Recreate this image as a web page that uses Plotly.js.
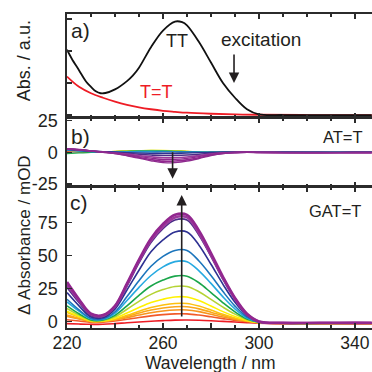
<!DOCTYPE html>
<html>
<head>
<meta charset="utf-8">
<script src="https://cdn.plot.ly/plotly-3.0.1.min.js"></script>
<style>html,body{margin:0;padding:0;background:#fff;}#chart{width:372px;height:372px;}</style>
</head>
<body>
<div id="chart"></div>
<script>
// ---------- Panel a: ground-state absorbance (a.u.) ----------
const wlTT = [220,222,225,228,230,232,234,236,240,245,247.5,250,255,260,265,268,270,275,280,285,290,295,300,310,320,347];
const absTT = [0.51,0.44,0.35,0.26,0.22,0.185,0.17,0.172,0.20,0.265,0.31,0.37,0.53,0.66,0.73,0.725,0.70,0.57,0.41,0.25,0.135,0.045,0.005,0,0,0];
const wlTeT = [220,225,230,235,240,245,250,255,260,265,270,280,290,300,320,347];
const absTeT = [0.30,0.22,0.17,0.135,0.105,0.08,0.06,0.045,0.033,0.025,0.018,0.01,0.005,0.002,0,0];

// ---------- shared wavelength grid for panels b and c ----------
const wl = [220,225,230,235,240,245,250,255,260,265,270,275,280,285,290,295,300,310,320,330,340,347];

// ---------- Panel b: AT=T difference spectra (mOD), bottom-to-top colour order ----------
const bRed     = [0.5,0.3,0.2,0,0.2,0.3,0.5,0.6,0.5,0.4,0.3,0.2,0,0,0,0,0,-0.2,0,0.1,0,0];
const bOrRed   = [1.0,0.5,0.2,0,0.3,0.5,0.7,0.8,0.7,0.5,0.3,0.2,0.1,0,0,0,0,-0.1,0,0,0.1,0];
const bOrange  = [1.2,0.6,0.3,0.1,0.3,0.6,0.9,1.0,0.9,0.6,0.4,0.2,0.1,0,0,0,0,0,0.1,0,0,0];
const bLtOr    = [1.5,0.8,0.3,0.2,0.4,0.7,1.0,1.2,1.1,0.8,0.5,0.3,0.1,0,0,0,0,0,0,0.1,0,0];
const bYelOr   = [1.8,1.0,0.4,0.2,0.5,0.8,1.1,1.3,1.2,0.9,0.6,0.3,0.1,0,0,0.1,0,0,0.1,0,0,0];
const bYellow  = [2.0,1.2,0.5,0.3,0.6,0.9,1.2,1.5,1.4,1.0,0.6,0.3,0.1,0,0,0.1,0.2,0.1,0.2,0.3,0.4,0.3];
const bYelGrn  = [2.2,1.3,0.5,0.3,0.6,0.9,1.2,1.4,1.3,1.0,0.6,0.3,0.1,0,0,0,0.1,0,0.1,0.2,0.2,0.2];
const bGreen   = [-1.0,-0.6,-0.2,0,0.4,0.7,1.0,1.1,1.0,0.7,0.4,0.2,0,0,0,0,0,0,0,0,0,0];
const bCyan    = [1.5,0.9,0.4,0.2,0.3,0.4,0.6,0.7,0.6,0.4,0.2,0.1,0,0,0,0,0,0,0,0,0,0];
const bBlue    = [1.8,1.0,0.4,0.2,0.2,0.1,0,0.1,0.2,0.3,0.2,0.1,0,0,0,0,0,0,0,0,0,0];
const bDkBlue  = [2.2,1.5,0.9,0.4,0,-0.4,-0.7,-0.9,-1.0,-0.9,-0.7,-0.4,-0.2,0,0,0,0,0,0,-0.1,0,0];
const bNavy    = [2.5,1.8,1.0,0.3,-0.3,-0.9,-1.6,-2.2,-2.6,-2.5,-2.2,-1.6,-0.8,-0.3,-0.1,0,0,-0.1,-0.2,-0.2,-0.1,-0.1];
const bPurp1   = [2.5,1.8,1.0,0.2,-0.6,-1.5,-2.6,-3.6,-4.4,-4.3,-3.7,-2.7,-1.4,-0.5,-0.2,0,-0.1,-0.2,-0.3,-0.3,-0.2,-0.2];
const bPurp2   = [2.6,1.9,1.0,0.1,-0.8,-2.0,-3.4,-4.7,-5.7,-5.6,-4.8,-3.5,-1.8,-0.7,-0.2,0,-0.2,-0.3,-0.4,-0.3,-0.3,-0.3];
const bPurp3   = [2.7,2.0,1.0,0,-1.0,-2.4,-4.1,-5.8,-7.0,-6.9,-6.0,-4.3,-2.2,-0.9,-0.3,0,-0.2,-0.4,-0.4,-0.4,-0.3,-0.3];
const bPurp4   = [2.8,2.0,1.0,0,-1.1,-2.8,-4.7,-6.7,-8.2,-8.1,-7.0,-5.0,-2.6,-1.0,-0.3,0,-0.3,-0.4,-0.5,-0.4,-0.4,-0.4];

// ---------- Panel c: GAT=T difference spectra (mOD), bottom-to-top ----------
const cRed     = [-1.5,-1.8,-2,-2,-1.5,-0.8,-0.2,0.3,0.8,1.2,1.3,1.1,0.7,0.2,-0.3,-0.8,-1.2,-1.5,-1.6,-1.5,-1.6,-1.5];
const cOrRed   = [1.5,0.5,-0.5,-0.4,0.5,1.8,3.2,4.4,5.3,5.9,5.9,5.0,3.7,2.3,1.0,0,-0.8,-1.4,-1.5,-1.6,-1.5,-1.5];
const cOrange  = [4,2,0,0.2,1.2,3.0,5.0,6.8,8.1,8.9,8.9,7.6,5.6,3.5,1.7,0.3,-0.8,-1.4,-1.5,-1.5,-1.4,-1.5];
const cLtOr    = [5,2.5,0.2,0.3,1.6,3.9,6.5,8.8,10.4,11.3,11.3,9.7,7.2,4.6,2.2,0.5,-0.7,-1.4,-1.5,-1.5,-1.4,-1.4];
const cYelOr   = [7,3.5,0.4,0.4,1.9,4.8,7.9,10.7,12.6,13.8,13.8,11.8,8.8,5.6,2.8,0.6,-0.7,-1.3,-1.4,-1.5,-1.3,-1.4];
const cYellow  = [8,4,0.5,0.6,2.6,6.5,10.7,14.5,17.0,18.7,18.7,16.0,11.9,7.6,3.9,1.0,-0.6,-1.3,-1.3,-1.4,-1.2,-1.3];
const cYelGrn  = [10,5,1,1,3.8,9.4,15.4,20.7,24.3,26.7,26.7,22.7,16.9,11.0,5.7,1.5,-0.5,-1.2,-1.3,-1.3,-1.2,-1.2];
const cGreen   = [12,6,1.3,1.3,4.8,12,20,27,31.5,34.5,34.5,29.5,22,14.3,7.4,2.0,-0.4,-1.2,-1.3,-1.2,-1.2,-1.2];
const cCyan    = [15,8,2,1.8,6.3,16,26,35,41.5,45.5,45.5,38.5,29,18.8,9.7,2.8,-0.3,-1.1,-1.2,-1.2,-1.1,-1.1];
const cBlue    = [17,9,2.5,2.2,7.5,19,31,42,49.5,54,54,46,35,22.8,11.8,3.5,-0.2,-1.1,-1.2,-1.1,-1.1,-1.1];
const cDkBlue  = [22,12,3.5,3,9.5,24,39,53,62,68,68,58,43.5,28.3,14.7,4.5,-0.1,-1.0,-1.1,-1.1,-1.0,-1.0];
const cNavy    = [26,14.5,4.5,4,11,27,44.5,60,70.5,77,77,65.5,49.5,32,16.8,5.3,0,-1.0,-1.1,-1.0,-1.0,-1.0];
const cPurp1   = [28,16,5.5,4.5,11.5,28,46,61.5,72,79,79,67,50.5,33,17.3,5.5,0,-1.0,-1.0,-1.0,-0.9,-1.0];
const cPurp2   = [30,17,6,5,12,29,47,63,74,81,81,69,52,34,18,6,0.2,-0.9,-1.0,-0.9,-0.9,-0.9];

const seriesColors = ['#ed1c24','#f15a29','#f7941d','#faa61a','#fdc010','#fff200','#b5d334','#1aa64b','#27aae1','#1c75bc','#2e3192','#4b2d87','#9b3a9c','#92278f'];
const bSeries = [bRed,bOrRed,bOrange,bLtOr,bYelOr,bYellow,bYelGrn,bGreen,bCyan,bBlue,bDkBlue,bNavy,bPurp1,bPurp3];
const cSeries = [cRed,cOrRed,cOrange,cLtOr,cYelOr,cYellow,cYelGrn,cGreen,cCyan,cBlue,cDkBlue,cNavy,cPurp1,cPurp2];
const bExtra = [bPurp2,bPurp4];

const xTickVals = [220,240,260,280,300,320,340];
const xTickText = ['220','','260','','300','','340'];
const bTickVals = [-25,0,25];
const bTickText = ['-25','0','25'];
const cTickVals = [0,25,50,75];
const cTickText = ['0','25','50','75'];

// ---------- build traces ----------
const traces = [];
traces.push({x: wlTeT, y: absTeT, xaxis:'x', yaxis:'y', mode:'lines', line:{color:'#ee1c25', width:1.8, shape:'spline'}, hoverinfo:'skip'});
traces.push({x: wlTT, y: absTT, xaxis:'x', yaxis:'y', mode:'lines', line:{color:'#111', width:1.8, shape:'spline'}, hoverinfo:'skip'});

bSeries.forEach((s,i)=>{
  traces.push({x: wl, y: s, xaxis:'x2', yaxis:'y2', mode:'lines', line:{color: seriesColors[i], width: i>=11 ? 1.6 : 1.3, shape:'spline'}, hoverinfo:'skip'});
});
bExtra.forEach((s)=>{
  traces.push({x: wl, y: s, xaxis:'x2', yaxis:'y2', mode:'lines', line:{color: '#8e2a8e', width: 1.3, shape:'spline'}, hoverinfo:'skip'});
});
cSeries.forEach((s,i)=>{
  traces.push({x: wl, y: s, xaxis:'x3', yaxis:'y3', mode:'lines', line:{color: seriesColors[i], width: i>=12 ? 2.6 : 1.6, shape:'spline'}, hoverinfo:'skip'});
});

const font = {family:'"Liberation Sans", Arial, sans-serif', size:18, color:'#231f20'};
const axCol = '#2b2b2b';

function xAxis(domainAnchor, showLabels){
  return {
    anchor: domainAnchor, domain:[0,1], range:[220,347.1],
    showline:true, linecolor:axCol, linewidth:1.6, mirror:'ticks',
    ticks:'inside', ticklen:5, tickwidth:1.4, tickcolor:axCol,
    tickmode:'array', tickvals:xTickVals, ticktext:xTickText,
    showticklabels: showLabels, showgrid:false, zeroline:false,
    minor:{dtick:10, tick0:220, ticks:'inside', ticklen:3, tickwidth:1.2, tickcolor:axCol, showgrid:false},
    tickfont:{family:font.family, size:17.5, color:font.color}, ticklabelstandoff:-2
  };
}
function yAxis(anchor, domain, range){
  return {
    anchor: anchor, domain: domain, range: range,
    showline:true, linecolor:axCol, linewidth:1.6,
    ticks:'inside', ticklen:5, tickwidth:1.4, tickcolor:axCol,
    showgrid:false, zeroline:false, tickfont:font, ticklabelstandoff:4
  };
}

const ya = yAxis('x', [0.6697,1], [-0.021,0.789]);
ya.tickmode='linear'; ya.tick0=0; ya.dtick=0.25; ya.showticklabels=false;
const yb = yAxis('x2', [0.45,0.6697], [-27,27]);
yb.tickmode='array'; yb.tickvals=bTickVals; yb.ticktext=bTickText;
const yc = yAxis('x3', [0,0.45], [-4.8,102.3]);
yc.tickmode='array'; yc.tickvals=cTickVals; yc.ticktext=cTickText;

const ann = [];
function txt(xref,yref,x,y,t,size,color){
  ann.push({xref:xref, yref:yref, x:x, y:y, text:t, showarrow:false, xanchor:'center', yanchor:'middle',
    font:{family:font.family, size:size, color:color||'#231f20'}});
}
function arrow(xref,yref,x,yTail,yHead){
  ann.push({xref:xref, yref:yref, axref:xref, ayref:yref, x:x, y:yHead, ax:x, ay:yTail, text:'', showarrow:true,
    arrowhead:2, arrowsize:1.3, arrowwidth:1.6, arrowcolor:'#231f20', standoff:0, startstandoff:0});
}
txt('x','y',225.5,0.66,'a)',21);
txt('x','y',266,0.582,'TT',18);
txt('x','y',257.4,0.176,'T=T',18,'#ee1c25');
txt('x','y',300.8,0.586,'excitation',19);
arrow('x','y',289.6,0.484,0.25);

txt('x2','y2',225.6,12.1,'b)',21);
txt('x2','y2',335,12.1,'AT=T',16.5);
arrow('x2','y2',264,1.2,-20.7);

txt('x3','y3',225,90,'c)',21);
txt('x3','y3',331.7,83.9,'GAT=T',16.5);
arrow('x3','y3',267.8,2.8,96);

// axis titles
ann.push({xref:'paper', yref:'paper', x:-0.141, y:0.853, text:'Abs. / a.u.', textangle:-90, showarrow:false,
  xanchor:'center', yanchor:'middle', font:{family:font.family, size:18, color:'#231f20'}});
ann.push({xref:'paper', yref:'paper', x:-0.141, y:0.296, text:'Δ Absorbance / mOD', textangle:-90, showarrow:false,
  xanchor:'center', yanchor:'middle', font:{family:font.family, size:17, color:'#231f20'}});
ann.push({xref:'paper', yref:'paper', x:0.469, y:-0.113, text:'Wavelength / nm', showarrow:false,
  xanchor:'center', yanchor:'middle', font:{family:font.family, size:17.5, color:'#231f20'}});

const layout = {
  width:372, height:372,
  margin:{l:67, r:0, t:14, b:44},
  paper_bgcolor:'#fff', plot_bgcolor:'#fff',
  showlegend:false, font:font,
  xaxis: xAxis('y', false),
  xaxis2: xAxis('y2', false),
  xaxis3: xAxis('y3', true),
  yaxis: ya, yaxis2: yb, yaxis3: yc,
  annotations: ann
};

Plotly.newPlot('chart', traces, layout, {staticPlot:true, displayModeBar:false});
</script>
</body>
</html>
